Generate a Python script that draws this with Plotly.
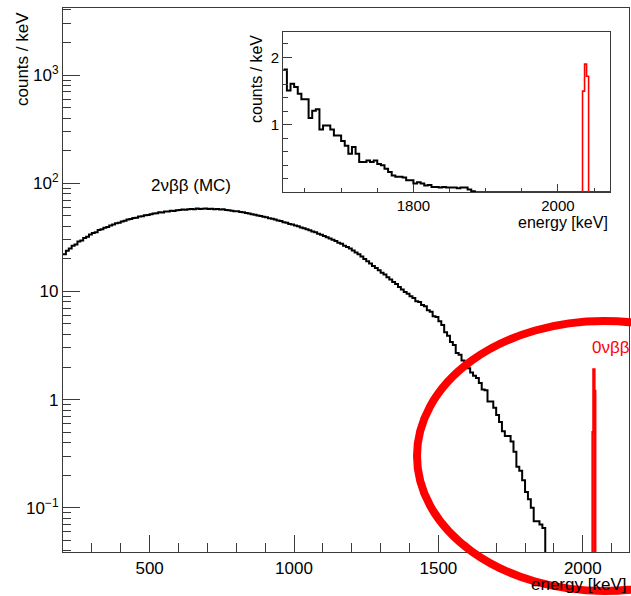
import numpy as np
import plotly.graph_objects as go

# ---------------- data ----------------
# main 2vbb spectrum: 10 keV bins starting at 200 keV (counts / keV)
main_bin_start = 200
main_bin_width = 10
main_counts = [
    22.0, 23.8, 24.9, 26.4, 27.1, 28.9, 29.6, 31.2, 32.0, 33.5,
    34.6, 35.3, 36.9, 37.5, 38.8, 39.4, 40.7, 41.5, 42.6, 43.1,
    44.3, 45.0, 46.2, 46.6, 47.8, 48.1, 49.3, 49.6, 50.5, 51.0,
    51.8, 52.4, 52.9, 53.8, 53.6, 54.7, 54.9, 55.6, 55.4, 56.3,
    56.5, 57.1, 56.8, 57.6, 57.9, 57.4, 58.3, 57.8, 58.1, 58.4,
    57.9, 58.2, 57.6, 57.8, 57.1, 57.4, 56.6, 56.3, 55.7, 55.2,
    55.0, 54.1, 53.8, 53.0, 52.6, 51.7, 51.2, 50.3, 49.8, 48.9,
    48.4, 47.5, 46.9, 46.1, 45.3, 44.8, 43.7, 43.2, 42.1, 41.5,
    40.6, 40.1, 39.0, 38.3, 37.5, 36.8, 35.8, 35.2, 34.1, 33.4,
    32.6, 31.7, 30.9, 30.0, 29.3, 28.2, 27.6, 26.5, 25.8, 24.9,
    23.9, 22.9, 22.0, 21.0, 19.9, 19.0, 18.1, 17.2, 16.5, 15.7,
    14.9, 14.3, 13.5, 12.9, 12.2, 11.7, 11.0, 10.4, 9.9, 9.5,
    9.0, 8.7, 8.1, 8.0, 7.5, 7.3, 6.7, 6.5, 5.9, 5.8,
    5.3, 4.9, 4.2, 3.9, 3.4, 3.2, 2.7, 2.6, 2.3, 2.15,
    1.95, 1.78, 1.66, 1.58, 1.42, 1.24, 1.22, 0.96, 0.96, 0.84,
    0.72, 0.62, 0.51, 0.46, 0.46, 0.41, 0.33, 0.24, 0.22, 0.18,
    0.14, 0.12, 0.10, 0.075, 0.075, 0.07, 0.065, 0.028,
]

# 0vbb peak in the main panel
main_peak_edges = [2034, 2037, 2040, 2043]
main_peak_counts = [0.5, 1.9, 1.2]

# inset: 5 keV bins starting at 1620 keV
inset_bin_start = 1620
inset_bin_width = 5
inset_counts = [
    1.82, 1.51, 1.61, 1.56, 1.46, 1.38, 1.38, 1.10, 1.21, 1.23,
    0.93, 0.99, 0.99, 0.93, 0.84, 0.84, 0.76, 0.69, 0.57, 0.67,
    0.57, 0.45, 0.45, 0.47, 0.45, 0.47, 0.42, 0.40, 0.35, 0.30,
    0.25, 0.23, 0.23, 0.22, 0.18, 0.18, 0.13, 0.15, 0.13, 0.10,
    0.11, 0.08, 0.08, 0.07, 0.08, 0.07, 0.07, 0.07, 0.06, 0.07,
    0.07, 0.04, 0.015,
] + [0.0] * 38

inset_peak_edges = [2034.0, 2036.8, 2039.6, 2042.4]
inset_peak_counts = [1.5, 1.9, 1.72]

main_yticks = [0.1, 1, 10, 100, 1000]
main_yticktext = ["10<sup>\u22121</sup>", "1", "10", "10<sup>2</sup>", "10<sup>3</sup>"]

TINY = 1e-6
FONT = "Liberation Sans, Arial, Helvetica, sans-serif"


def outline(start, width, counts, floor):
    edges = start + width * np.arange(len(counts) + 1)
    x = list(edges)
    y = list(counts) + [floor]
    return x, y


def peak_outline(edges, counts, floor):
    x = [edges[0]] + list(edges)
    y = [floor] + list(counts) + [floor]
    return x, y


fig = go.Figure()

mx, my = outline(main_bin_start, main_bin_width, main_counts, TINY)
fig.add_trace(go.Scatter(x=mx, y=my, mode="lines", line=dict(color="black", width=2, shape="hv"),
                         xaxis="x", yaxis="y", showlegend=False, hoverinfo="skip"))
px_, py_ = peak_outline(main_peak_edges, main_peak_counts, TINY)
fig.add_trace(go.Scatter(x=px_, y=py_, mode="lines", line=dict(color="#ff0000", width=2.5, shape="hv"),
                         xaxis="x", yaxis="y", showlegend=False, hoverinfo="skip"))

ix, iy = outline(inset_bin_start, inset_bin_width, inset_counts, 0.0)
fig.add_trace(go.Scatter(x=ix, y=iy, mode="lines", line=dict(color="black", width=2, shape="hv"),
                         xaxis="x2", yaxis="y2", showlegend=False, hoverinfo="skip"))
ipx, ipy = peak_outline(inset_peak_edges, inset_peak_counts, 0.0)
fig.add_trace(go.Scatter(x=ipx, y=ipy, mode="lines", line=dict(color="#ff0000", width=1.6, shape="hv"),
                         xaxis="x2", yaxis="y2", showlegend=False, hoverinfo="skip"))

W, H = 631, 596
L, R, T, B = 63, 2, 8, 44
pw, ph = W - L - R, H - T - B


def pxx(p):
    return (p - L) / pw


def pxy(p):
    return (H - B - p) / ph


axcol = "#3a3a3a"
minor_log = [m * 10.0 ** e for e in range(-2, 4) for m in range(2, 10)]

fig.update_layout(
    width=W, height=H,
    margin=dict(l=L, r=R, t=T, b=B),
    paper_bgcolor="white", plot_bgcolor="white",
    font=dict(family=FONT, size=17, color="black"),
    xaxis=dict(domain=[0, 1], range=[200, 2160], showgrid=False, zeroline=False,
               showline=True, mirror=True, linecolor=axcol, linewidth=1.2,
               ticks="inside", ticklen=17, tickcolor=axcol, tickwidth=1,
               tickmode="array", tickvals=[500, 1000, 1500, 2000],
               tickfont=dict(size=17),
               minor=dict(ticks="inside", ticklen=9, tickcolor=axcol, dtick=100, tick0=0, showgrid=False)),
    yaxis=dict(domain=[0, 1], type="log", range=[np.log10(0.039), 3.62], showgrid=False, zeroline=False,
               showline=True, mirror=True, linecolor=axcol, linewidth=1.2,
               ticks="inside", ticklen=17, tickcolor=axcol, tickwidth=1,
               tickmode="array", tickvals=main_yticks, ticktext=main_yticktext,
               tickfont=dict(size=17),
               minor=dict(ticks="inside", ticklen=8, tickcolor=axcol, tickmode="array",
                          tickvals=minor_log, showgrid=False)),
    xaxis2=dict(domain=[pxx(283.3), pxx(610)], anchor="y2", range=[1620, 2072], showgrid=False, zeroline=False,
                showline=True, mirror=True, linecolor=axcol, linewidth=1.2,
                ticks="inside", ticklen=8, tickcolor=axcol,
                tickmode="array", tickvals=[1800, 2000], tickfont=dict(size=15),
                minor=dict(ticks="inside", ticklen=4, tickcolor=axcol, dtick=50, tick0=1600, showgrid=False)),
    yaxis2=dict(domain=[pxy(192.3), pxy(31.7)], anchor="x2", range=[0, 2.38], showgrid=False, zeroline=False,
                showline=True, mirror=True, linecolor=axcol, linewidth=1.2,
                ticks="inside", ticklen=9, tickcolor=axcol,
                tickmode="array", tickvals=[1, 2], tickfont=dict(size=15),
                minor=dict(ticks="inside", ticklen=5, tickcolor=axcol, dtick=0.2, tick0=0, showgrid=False)),
)

ann = [
    dict(text="counts / keV", x=pxx(23), y=pxy(10), xref="paper", yref="paper", textangle=-90,
         xanchor="center", yanchor="top", showarrow=False, font=dict(size=17)),
    dict(text="energy [keV]", x=pxx(628), y=pxy(584), xref="paper", yref="paper",
         xanchor="right", yanchor="middle", showarrow=False, font=dict(size=17)),
    dict(text="2\u03bd\u03b2\u03b2 (MC)", x=pxx(191), y=pxy(186), xref="paper", yref="paper",
         xanchor="center", yanchor="middle", showarrow=False, font=dict(size=17)),
    dict(text="0\u03bd\u03b2\u03b2", x=pxx(611), y=pxy(347), xref="paper", yref="paper",
         xanchor="center", yanchor="middle", showarrow=False, font=dict(size=17, color="#ff0000")),
    dict(text="counts / keV", x=pxx(257), y=pxy(33), xref="paper", yref="paper", textangle=-90,
         xanchor="center", yanchor="top", showarrow=False, font=dict(size=16)),
    dict(text="energy [keV]", x=pxx(610), y=pxy(222), xref="paper", yref="paper",
         xanchor="right", yanchor="middle", showarrow=False, font=dict(size=16)),
]
fig.update_layout(annotations=ann)

fig.add_shape(type="circle", xref="paper", yref="paper",
              x0=pxx(417), x1=pxx(791), y0=pxy(591), y1=pxy(321),
              line=dict(color="#ff0000", width=8), layer="above")

fig.write_html("out.html", config={"displayModeBar": False},
               post_script="document.body.style.margin='0';document.body.style.padding='0';")
